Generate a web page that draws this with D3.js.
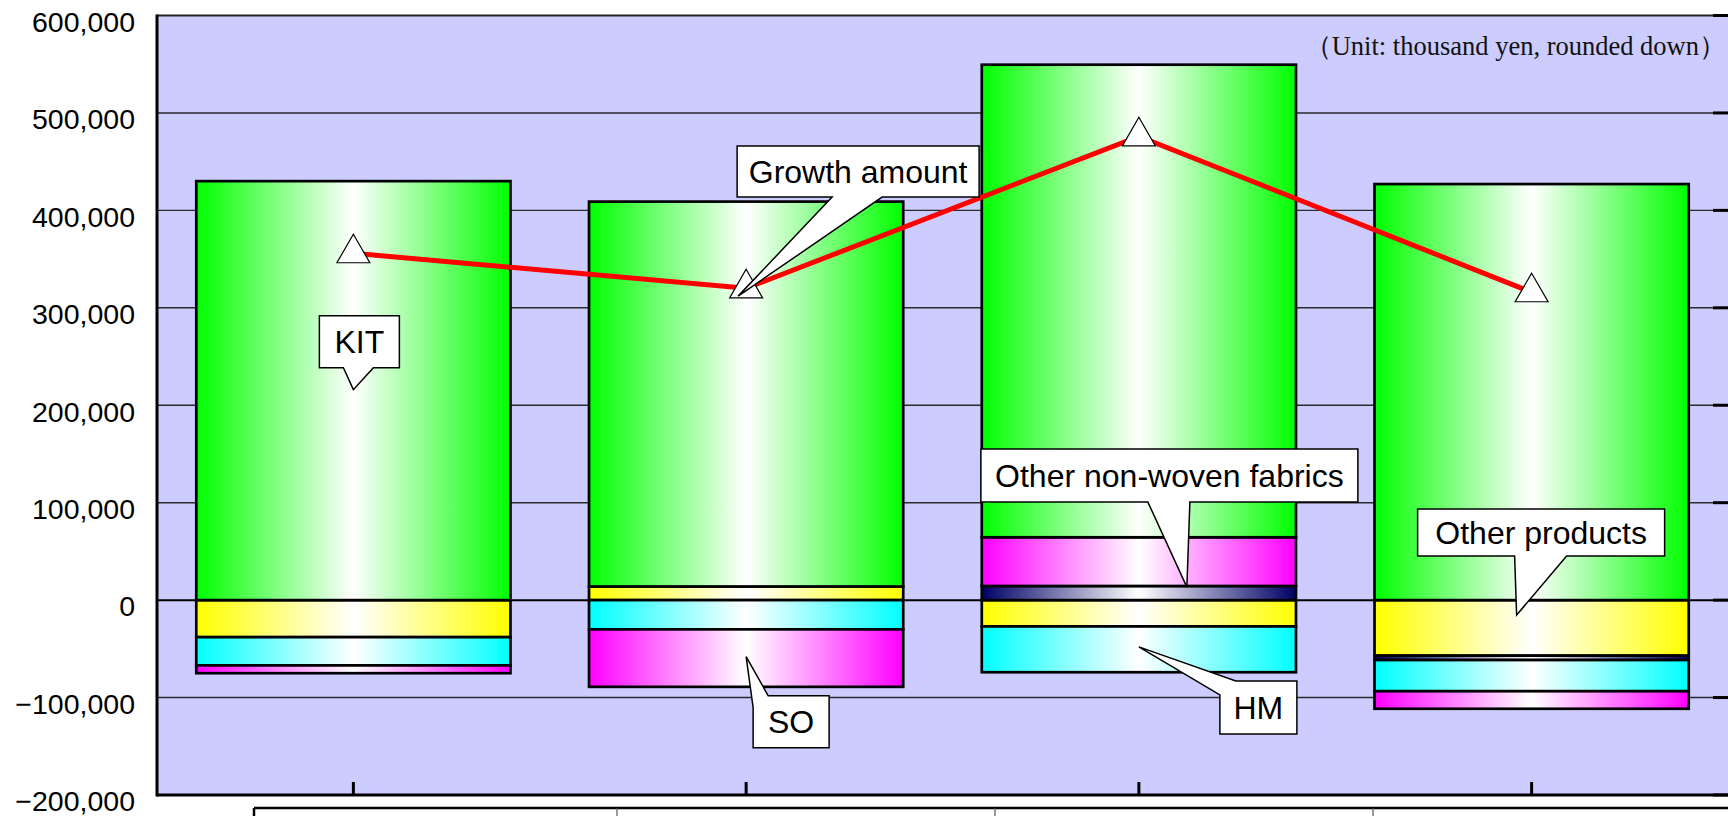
<!DOCTYPE html>
<html>
<head>
<meta charset="utf-8">
<script src="https://cdnjs.cloudflare.com/ajax/libs/d3/7.8.5/d3.min.js"></script>
<style>
body { margin: 0; background: #fff; }
svg { display: block; }
</style>
</head>
<body>
<svg width="1728" height="816"></svg>
<script>
var categories = ["FY1", "FY2", "FY3", "FY4"];

// values in thousand yen
var otherProducts = [-38000, 14000, -27000, -57000];
var otherNonWoven = [0, 0, 14500, -4500];
var hm = [-29000, -30000, -47000, -32000];
var so = [-8000, -59000, 50000, -18000];
var kit = [430000, 395000, 485000, 427000];
var growth = [356000, 320000, 476000, 316000];

var seriesNames = ["Other products", "Other non-woven fabrics", "HM", "SO", "KIT"];
var seriesColors = ["#ffff00", "#000066", "#00ffff", "#ff00ff", "#00ff00"];

var yTicks = [-200000, -100000, 0, 100000, 200000, 300000, 400000, 500000, 600000];

// callout layout: tip anchored on data, box and base offsets in px from the tip
var callouts = [
  {text: "KIT", cat: 0, value: 216000, dx: 0, box: [-34, -74, 80, 52], b1: [20, -22], b2: [-10, -22]},
  {text: "Growth amount", cat: 1, value: 312000, dx: -8, box: [-1, -150, 242, 51], b1: [144, -99], b2: [94, -99]},
  {text: "SO", cat: 1, value: -58000, dx: 0, box: [7, 39, 76, 52], b1: [7, 51], b2: [22, 39]},
  {text: "Other non-woven fabrics", cat: 2, value: 13400, dx: 48, box: [-206, -138, 377, 53], b1: [3, -85], b2: [-39, -85]},
  {text: "HM", cat: 2, value: -48000, dx: 0, box: [81, 34, 77, 53], b1: [81, 48], b2: [97, 34]},
  {text: "Other products", cat: 3, value: -15300, dx: -15, box: [-99, -106, 247, 47], b1: [50, -59], b2: [-2, -59]}
];

var seriesValues = [otherProducts, otherNonWoven, hm, so, kit];

var rows = categories.map(function(c, i) {
  var r = {cat: c};
  seriesNames.forEach(function(n, k) { r[n] = seriesValues[k][i]; });
  return r;
});

var svg = d3.select("svg"),
    width = +svg.attr("width"),
    height = +svg.attr("height");

var plotLeft = 157, plotRight = 1728, plotTop = 15.5, plotBottom = 795;

var x = d3.scaleBand()
    .domain(categories)
    .range([plotLeft, plotRight])
    .paddingInner(0.2)
    .paddingOuter(0.1);

var y = d3.scaleLinear()
    .domain([-200000, 600000])
    .range([plotBottom, plotTop]);

// gradients: colour at the edges, white in the middle
var defs = svg.append("defs");
seriesNames.forEach(function(n, i) {
  var g = defs.append("linearGradient")
      .attr("id", "grad" + i)
      .attr("x1", 0).attr("x2", 1).attr("y1", 0).attr("y2", 0);
  g.append("stop").attr("offset", "0%").attr("stop-color", seriesColors[i]);
  g.append("stop").attr("offset", "50%").attr("stop-color", "#ffffff");
  g.append("stop").attr("offset", "100%").attr("stop-color", seriesColors[i]);
});

svg.append("rect")
    .attr("x", plotLeft).attr("y", plotTop)
    .attr("width", plotRight - plotLeft + 5).attr("height", plotBottom - plotTop)
    .attr("fill", "#ccccff");

// gridlines
svg.append("g")
  .selectAll("line")
  .data(yTicks.filter(function(t) { return t > -200000 && t < 600000; }))
  .enter().append("line")
    .attr("x1", plotLeft).attr("x2", plotRight)
    .attr("y1", function(d) { return y(d); })
    .attr("y2", function(d) { return y(d); })
    .attr("stroke", function(d) { return d === 0 ? "#000" : "#2a2a2a"; })
    .attr("stroke-width", function(d) { return d === 0 ? 2 : 1.4; });

var stacked = d3.stack()
    .keys(seriesNames)
    .offset(d3.stackOffsetDiverging)(rows);

svg.append("g")
  .selectAll("g")
  .data(stacked)
  .enter().append("g")
    .attr("fill", function(d) { return "url(#grad" + d.index + ")"; })
  .selectAll("rect")
  .data(function(d) { return d.filter(function(s) { return s[1] !== s[0]; }); })
  .enter().append("rect")
    .attr("x", function(d) { return x(d.data.cat); })
    .attr("width", x.bandwidth())
    .attr("y", function(d) { return y(d[1]); })
    .attr("height", function(d) { return y(d[0]) - y(d[1]); })
    .attr("stroke", "#000")
    .attr("stroke-width", 2.7);

// growth line
var line = d3.line()
    .x(function(d, i) { return x(categories[i]) + x.bandwidth() / 2; })
    .y(function(d) { return y(d); });

svg.append("path")
    .datum(growth)
    .attr("d", line)
    .attr("fill", "none")
    .attr("stroke", "#ff0000")
    .attr("stroke-width", 5);

svg.append("g")
  .selectAll("path")
  .data(growth)
  .enter().append("path")
    .attr("d", d3.symbol().type(d3.symbolTriangle).size(470))
    .attr("transform", function(d, i) {
      return "translate(" + (x(categories[i]) + x.bandwidth() / 2) + "," + y(d) + ")";
    })
    .attr("fill", "#fff")
    .attr("stroke", "#000")
    .attr("stroke-width", 1.2);

// axes
svg.append("line")
    .attr("x1", plotLeft).attr("x2", plotRight)
    .attr("y1", plotTop).attr("y2", plotTop)
    .attr("stroke", "#222").attr("stroke-width", 2);

svg.append("line")
    .attr("x1", plotLeft).attr("x2", plotLeft)
    .attr("y1", plotTop - 1).attr("y2", plotBottom + 1.5)
    .attr("stroke", "#000").attr("stroke-width", 3);

svg.append("line")
    .attr("x1", plotLeft).attr("x2", plotRight)
    .attr("y1", plotBottom).attr("y2", plotBottom)
    .attr("stroke", "#000").attr("stroke-width", 3);

svg.append("g")
  .selectAll("line")
  .data(categories)
  .enter().append("line")
    .attr("x1", function(d) { return x(d) + x.bandwidth() / 2; })
    .attr("x2", function(d) { return x(d) + x.bandwidth() / 2; })
    .attr("y1", plotBottom - 13).attr("y2", plotBottom)
    .attr("stroke", "#000").attr("stroke-width", 3);

// secondary axis ticks on the right edge
svg.append("g")
  .selectAll("line")
  .data(yTicks)
  .enter().append("line")
    .attr("x1", plotRight - 15).attr("x2", plotRight)
    .attr("y1", function(d) { return y(d); })
    .attr("y2", function(d) { return y(d); })
    .attr("stroke", "#000").attr("stroke-width", 3);

svg.append("g")
  .selectAll("text")
  .data(yTicks)
  .enter().append("text")
    .attr("x", 135)
    .attr("y", function(d) { return y(d) + 6; })
    .attr("dy", "0.36em")
    .attr("text-anchor", "end")
    .style("font-family", "'Liberation Sans', Arial, sans-serif")
    .style("font-size", "28.5px")
    .style("fill", "#000")
    .text(function(d) { return d3.format(",")(d); });

svg.append("text")
    .attr("x", 1726)
    .attr("y", 55)
    .attr("text-anchor", "end")
    .style("font-family", "'Liberation Serif', 'Times New Roman', serif")
    .style("font-size", "26.5px")
    .style("fill", "#111")
    .text("（Unit: thousand yen, rounded down）");

// data table edge below the axis
var tableTop = 808;
svg.append("line")
    .attr("x1", 254).attr("x2", width)
    .attr("y1", tableTop).attr("y2", tableTop)
    .attr("stroke", "#000").attr("stroke-width", 2.5);
svg.append("g")
  .selectAll("line")
  .data([254, 617, 995, 1373])
  .enter().append("line")
    .attr("x1", function(d) { return d; })
    .attr("x2", function(d) { return d; })
    .attr("y1", tableTop).attr("y2", height)
    .attr("stroke", function(d, i) { return i === 0 ? "#000" : "#555"; })
    .attr("stroke-width", function(d, i) { return i === 0 ? 2.5 : 1.2; });

// callouts
function calloutPath(r, b1, b2, tip) {
  var w = r[2], h = r[3], P = 2 * w + 2 * h;
  var corners = [[r[0], r[1], 0], [r[0] + w, r[1], w], [r[0] + w, r[1] + h, w + h], [r[0], r[1] + h, 2 * w + h]];
  function pos(p) {
    var d = [Math.abs(p[1] - r[1]), Math.abs(p[0] - r[0] - w), Math.abs(p[1] - r[1] - h), Math.abs(p[0] - r[0])];
    var e = d.indexOf(Math.min.apply(null, d));
    if (e === 0) return p[0] - r[0];
    if (e === 1) return w + (p[1] - r[1]);
    if (e === 2) return w + h + (r[0] + w - p[0]);
    return 2 * w + h + (r[1] + h - p[1]);
  }
  var s = pos(b2), len = (pos(b1) - s + P) % P;
  var pts = [b2];
  corners.map(function(c) { return [c[0], c[1], (c[2] - s + P) % P]; })
    .filter(function(c) { return c[2] > 0 && c[2] < len; })
    .sort(function(a, b) { return a[2] - b[2]; })
    .forEach(function(c) { pts.push([c[0], c[1]]); });
  pts.push(b1, tip);
  return "M" + pts.map(function(p) { return p.join(","); }).join("L") + "Z";
}

var co = svg.append("g")
  .selectAll("g")
  .data(callouts)
  .enter().append("g")
    .attr("transform", function(d) {
      return "translate(" + (x(categories[d.cat]) + x.bandwidth() / 2 + d.dx) + "," + y(d.value) + ")";
    });

co.append("path")
    .attr("d", function(d) { return calloutPath(d.box, d.b1, d.b2, [0, 0]); })
    .attr("fill", "#fff")
    .attr("stroke", "#000")
    .attr("stroke-width", 1.5)
    .attr("stroke-linejoin", "miter");

co.append("text")
    .attr("x", function(d) { return d.box[0] + d.box[2] / 2; })
    .attr("y", function(d) { return d.box[1] + d.box[3] / 2; })
    .attr("dy", "0.36em")
    .attr("text-anchor", "middle")
    .style("font-family", "'Liberation Sans', Arial, sans-serif")
    .style("font-size", "32px")
    .style("fill", "#000")
    .text(function(d) { return d.text; });
</script>
</body>
</html>
